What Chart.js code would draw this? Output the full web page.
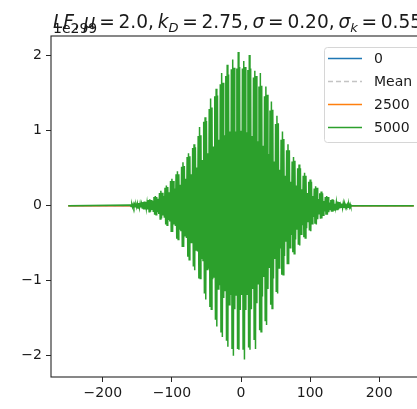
<!DOCTYPE html>
<html>
<head>
<meta charset="utf-8">
<script src="https://cdn.jsdelivr.net/npm/chart.js@4"></script>
<style>
  html, body { margin: 0; padding: 0; overflow: hidden; background: #fff; }
  #wrap { width: 432px; height: 409px; }
</style>
</head>
<body>
<div id="wrap"><canvas id="plot" width="432" height="409"></canvas></div>
<script>
// series labels and colours
const seriesNames = ['0', 'Mean', '2500', '5000'];
const seriesColors = ['#1f77b4', '#c4c4c4', '#ff7f0e', '#2ca02c'];

// tick positions
const xTicks = [-200, -100, 0, 100, 200];
const yTicks = [-2, -1, 0, 1, 2];
const yOffsetText = '1e299';

// flat runs (all ~0 at this scale)
const flatX = [-250, 250];
const flat0 = [0, 0];
const flatMean = [0, 0];
const flat2500 = [0, 0];

// t = 5000 profile, one sample per unit from -160 to 160 (values x 1e299)
const waveStart = -160;
const waveStep = 1;
const wave5000 = [
  0.01, -0.012, 0.018, -0.019, 0.02, -0.02, 0.019, -0.014,
  0.016, -0.02, 0.03, -0.031, 0.035, -0.03, 0.03, -0.023,
  0.026, -0.032, 0.048, -0.05, 0.055, -0.05, 0.049, -0.037,
  0.041, -0.05, 0.076, -0.079, 0.085, -0.08, 0.077, -0.058,
  0.063, -0.075, 0.115, -0.12, 0.13, -0.12, 0.116, -0.088,
  0.093, -0.111, 0.17, -0.178, 0.20, -0.17, 0.172, -0.13,
  0.13, -0.16, 0.24, -0.25, 0.27, -0.26, 0.25, -0.19,
  0.18, -0.21, 0.33, -0.34, 0.36, -0.35, 0.33, -0.25,
  0.23, -0.27, 0.42, -0.44, 0.46, -0.45, 0.42, -0.32,
  0.28, -0.34, 0.52, -0.54, 0.58, -0.55, 0.53, -0.40,
  0.36, -0.43, 0.65, -0.68, 0.70, -0.72, 0.66, -0.50,
  0.42, -0.50, 0.77, -0.81, 0.82, -0.86, 0.78, -0.59,
  0.51, -0.61, 0.93, -0.97, 1.05, -0.97, 0.94, -0.71,
  0.61, -0.73, 1.12, -1.17, 1.18, -1.25, 1.13, -0.85,
  0.70, -0.84, 1.29, -1.35, 1.43, -1.38, 1.31, -0.98,
  0.79, -0.95, 1.46, -1.52, 1.56, -1.61, 1.47, -1.11,
  0.88, -1.06, 1.62, -1.69, 1.77, -1.75, 1.64, -1.23,
  0.94, -1.13, 1.73, -1.80, 1.88, -1.88, 1.75, -1.32,
  0.99, -1.19, 1.82, -1.90, 1.95, -2.00, 1.84, -1.38,
  0.99, -1.19, 1.83, -1.91, 2.05, -1.92, 1.85, -1.39,
  1.00, -1.19, 1.83, -1.91, 1.93, -2.05, 1.85, -1.39,
  0.98, -1.18, 1.81, -1.89, 2.01, -1.92, 1.83, -1.38,
  0.93, -1.11, 1.71, -1.78, 1.80, -1.91, 1.73, -1.30,
  0.86, -1.04, 1.59, -1.66, 1.77, -1.68, 1.60, -1.21,
  0.80, -0.95, 1.46, -1.53, 1.59, -1.59, 1.48, -1.11,
  0.69, -0.83, 1.27, -1.32, 1.39, -1.37, 1.28, -0.97,
  0.59, -0.71, 1.09, -1.14, 1.20, -1.17, 1.10, -0.83,
  0.48, -0.57, 0.88, -0.92, 0.99, -0.92, 0.89, -0.67,
  0.40, -0.48, 0.74, -0.77, 0.82, -0.78, 0.74, -0.56,
  0.32, -0.39, 0.59, -0.62, 0.65, -0.64, 0.60, -0.45,
  0.27, -0.32, 0.50, -0.52, 0.55, -0.53, 0.50, -0.38,
  0.22, -0.26, 0.40, -0.42, 0.44, -0.43, 0.40, -0.30,
  0.17, -0.21, 0.32, -0.33, 0.35, -0.34, 0.32, -0.24,
  0.13, -0.15, 0.23, -0.24, 0.26, -0.25, 0.24, -0.18,
  0.09, -0.108, 0.166, -0.173, 0.19, -0.17, 0.167, -0.126,
  0.063, -0.075, 0.115, -0.12, 0.13, -0.12, 0.116, -0.088,
  0.041, -0.05, 0.076, -0.079, 0.085, -0.08, 0.077, -0.058,
  0.026, -0.032, 0.048, -0.05, 0.055, -0.05, 0.049, -0.037,
  0.016, -0.02, 0.03, -0.031, 0.035, -0.03, 0.03, -0.023,
  0.01, -0.012, 0.018, -0.019, 0.02, -0.02, 0.019, -0.014,
  0
];

const FONT = '"DejaVu Sans", sans-serif';
const minus = v => String(v).replace('-', '\u2212');

function xy(xs, ys) {
  return ys.map((y, i) => ({ x: xs[i], y: y }));
}

const wavePoints = [{ x: -250, y: 0 }];
wave5000.forEach((v, i) => wavePoints.push({ x: waveStart + i * waveStep, y: v }));
wavePoints.push({ x: 250, y: 0 });

// lower order is painted last, so 5000 ends up on top like the plotting order
const lineStyle = (label, color, data, order, dash) => ({
  label: label,
  data: data,
  order: order,
  borderColor: color,
  borderWidth: 1.5,
  borderDash: dash || [],
  pointRadius: 0,
  tension: 0,
  fill: false
});

// title with math-style italics and subscripts
const titleParts = [
  { t: 'LF', it: true }, { t: ',' }, { gap: 0.2 },
  { t: '\u03bc', it: true }, { gap: 0.2 }, { t: '=' }, { gap: 0.2 }, { t: '2.0,' }, { gap: 0.2 },
  { t: 'k', it: true }, { t: 'D', it: true, sub: true }, { gap: 0.2 }, { t: '=' }, { gap: 0.2 }, { t: '2.75,' }, { gap: 0.2 },
  { t: '\u03c3', it: true }, { gap: 0.2 }, { t: '=' }, { gap: 0.2 }, { t: '0.20,' }, { gap: 0.2 },
  { t: '\u03c3', it: true }, { t: 'k', it: true, sub: true }, { gap: 0.2 }, { t: '=' }, { gap: 0.2 }, { t: '0.55' }
];

const decorations = {
  id: 'decorations',
  afterDraw(chart) {
    const ctx = chart.ctx;
    const a = chart.chartArea;
    ctx.save();

    // frame on all four sides
    ctx.strokeStyle = '#262626';
    ctx.lineWidth = 1.1;
    ctx.strokeRect(a.left, a.top, a.right - a.left, a.bottom - a.top);

    // title
    const size = 18.6;
    let x = 53;
    const base = 28;
    ctx.fillStyle = '#1a1a1a';
    ctx.textBaseline = 'alphabetic';
    ctx.textAlign = 'left';
    titleParts.forEach(p => {
      if (p.gap) { x += p.gap * size; return; }
      const s = p.sub ? size * 0.7 : size;
      ctx.font = (p.it ? 'italic ' : '') + s + 'px ' + FONT;
      ctx.fillText(p.t, x, p.sub ? base + size * 0.22 : base);
      x += ctx.measureText(p.t).width;
    });

    // offset text
    ctx.font = '14px ' + FONT;
    ctx.fillText(yOffsetText, 53, 33);

    // legend
    const lx = 324, ly = 47, lh = 95;
    ctx.beginPath();
    ctx.roundRect(lx + 0.5, ly + 0.5, 130, lh, 3);
    ctx.fillStyle = 'rgba(255,255,255,0.8)';
    ctx.fill();
    ctx.strokeStyle = '#d6d6d6';
    ctx.lineWidth = 1;
    ctx.stroke();
    chart.data.datasets.forEach((ds, i) => {
      const cy = 58.5 + i * 23;
      ctx.beginPath();
      ctx.setLineDash(ds.borderDash || []);
      ctx.strokeStyle = ds.borderColor;
      ctx.lineWidth = 1.5;
      ctx.moveTo(328, cy);
      ctx.lineTo(362, cy);
      ctx.stroke();
      ctx.setLineDash([]);
      ctx.fillStyle = '#1a1a1a';
      ctx.font = '14px ' + FONT;
      ctx.textBaseline = 'middle';
      ctx.fillText(ds.label, 374, cy + 1);
    });
    ctx.restore();
  }
};

new Chart(document.getElementById('plot'), {
  type: 'line',
  data: {
    datasets: [
      lineStyle(seriesNames[0], seriesColors[0], xy(flatX, flat0), 4),
      lineStyle(seriesNames[1], seriesColors[1], xy(flatX, flatMean), 3, [5, 3]),
      lineStyle(seriesNames[2], seriesColors[2], xy(flatX, flat2500), 2),
      lineStyle(seriesNames[3], seriesColors[3], wavePoints, 1)
    ]
  },
  options: {
    responsive: false,
    animation: false,
    events: [],
    layout: { padding: { top: 36, right: 1, left: 0, bottom: 0 } },
    plugins: { legend: { display: false }, title: { display: false }, tooltip: { enabled: false } },
    scales: {
      x: {
        type: 'linear',
        min: -275,
        max: 275,
        afterBuildTicks: s => { s.ticks = xTicks.map(v => ({ value: v })); },
        afterFit: s => { s.height = 32; },
        grid: { drawOnChartArea: false, drawTicks: true, tickLength: 5, color: '#262626' },
        border: { display: false },
        ticks: {
          autoSkip: false, maxRotation: 0, padding: 3,
          color: '#1a1a1a', font: { family: FONT, size: 14 },
          callback: v => minus(v)
        }
      },
      y: {
        type: 'linear',
        min: -2.284,
        max: 2.263,
        afterBuildTicks: s => { s.ticks = yTicks.map(v => ({ value: v })); },
        afterFit: s => { s.width = 51; },
        grid: { drawOnChartArea: false, drawTicks: true, tickLength: 5, color: '#262626' },
        border: { display: false },
        ticks: {
          autoSkip: false, padding: 4,
          color: '#1a1a1a', font: { family: FONT, size: 14 },
          callback: v => minus(v)
        }
      }
    }
  },
  plugins: [decorations]
});
</script>
</body>
</html>
